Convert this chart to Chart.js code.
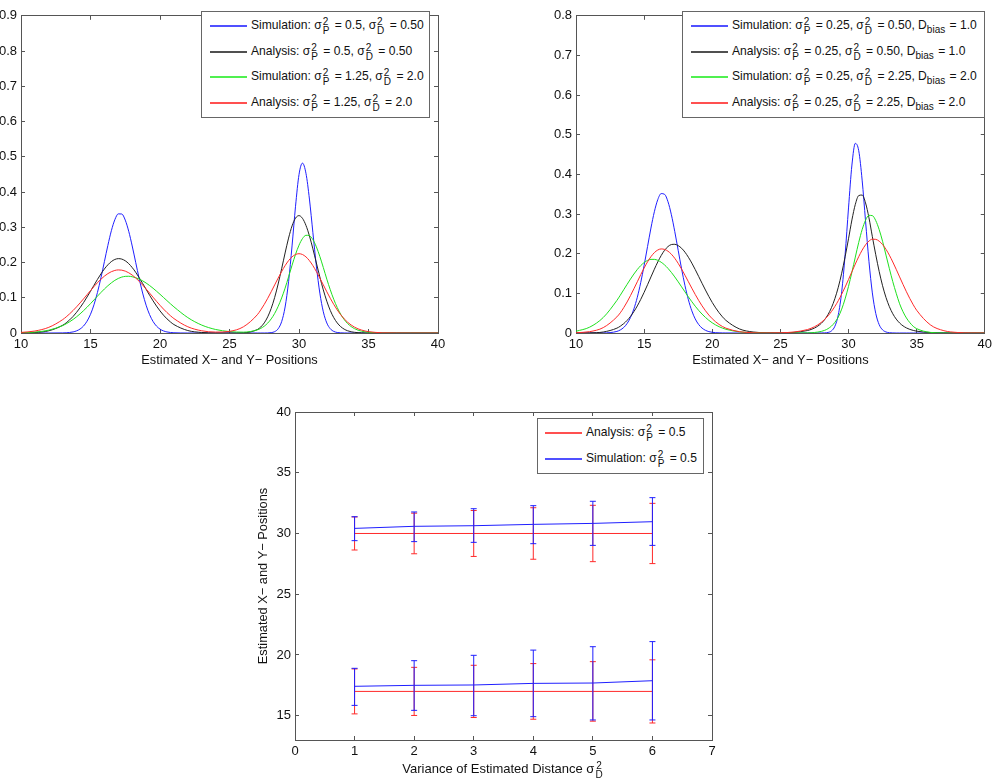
<!DOCTYPE html>
<html>
<head>
<meta charset="utf-8">
<script src="https://cdn.jsdelivr.net/npm/chart.js@4.4.1/dist/chart.umd.min.js"></script>
<style>
  body { margin: 0; background: #fff; width: 1000px; height: 782px; overflow: hidden; position: relative;
         font-family: "Liberation Sans", Arial, sans-serif; color: #111; }
  canvas { position: absolute; }
  #tl { left: 0; top: 0; width: 460px; height: 375px; }
  #tr { left: 520px; top: 0; width: 480px; height: 375px; }
  #bt { left: 240px; top: 392px; width: 500px; height: 390px; }
  .lg { position: absolute; border: 1px solid #666; background: #fff; font-size: 12.1px; box-sizing: border-box; }
  .row { position: absolute; left: 0; right: 0; height: 26px; display: flex; align-items: center; white-space: nowrap; }
  .sw { display: inline-block; flex: 0 0 37px; width: 37px; height: 2px; margin: 0 4px 0 8px; }
  .tx { flex: 0 0 auto; }
  .ss { display: inline-block; vertical-align: middle; font-size: 10px; line-height: 9px; margin: 0 2px 0 1px; }
  .ss b { display: block; font-weight: normal; }
  .sb { font-size: 10px; vertical-align: -4px; margin-right: 1px; }
  #xt { position: absolute; left: 295px; top: 761px; width: 417px; text-align: center; font-size: 13px; line-height: 16px; }
</style>
</head>
<body>
<canvas id="tl" width="460" height="375"></canvas>
<canvas id="tr" width="480" height="375"></canvas>
<canvas id="bt" width="500" height="390"></canvas>

<div class="lg" style="left:201px;top:11px;width:229px;height:107px">
  <div class="row" style="top:1px"><span class="sw" style="background:#5050ff"></span><span class="tx">Simulation: σ<span class="ss"><b>2</b><b>P</b></span> = 0.5, σ<span class="ss"><b>2</b><b>D</b></span> = 0.50</span></div>
  <div class="row" style="top:27px"><span class="sw" style="background:#505050"></span><span class="tx">Analysis: σ<span class="ss"><b>2</b><b>P</b></span> = 0.5, σ<span class="ss"><b>2</b><b>D</b></span> = 0.50</span></div>
  <div class="row" style="top:52px"><span class="sw" style="background:#50f050"></span><span class="tx">Simulation: σ<span class="ss"><b>2</b><b>P</b></span> = 1.25, σ<span class="ss"><b>2</b><b>D</b></span> = 2.0</span></div>
  <div class="row" style="top:78px"><span class="sw" style="background:#ff5050"></span><span class="tx">Analysis: σ<span class="ss"><b>2</b><b>P</b></span> = 1.25, σ<span class="ss"><b>2</b><b>D</b></span> = 2.0</span></div>
</div>

<div class="lg" style="left:682px;top:11px;width:303px;height:107px">
  <div class="row" style="top:1px"><span class="sw" style="background:#5050ff"></span><span class="tx">Simulation: σ<span class="ss"><b>2</b><b>P</b></span> = 0.25, σ<span class="ss"><b>2</b><b>D</b></span> = 0.50, D<span class="sb">bias</span> = 1.0</span></div>
  <div class="row" style="top:27px"><span class="sw" style="background:#505050"></span><span class="tx">Analysis: σ<span class="ss"><b>2</b><b>P</b></span> = 0.25, σ<span class="ss"><b>2</b><b>D</b></span> = 0.50, D<span class="sb">bias</span> = 1.0</span></div>
  <div class="row" style="top:52px"><span class="sw" style="background:#50f050"></span><span class="tx">Simulation: σ<span class="ss"><b>2</b><b>P</b></span> = 0.25, σ<span class="ss"><b>2</b><b>D</b></span> = 2.25, D<span class="sb">bias</span> = 2.0</span></div>
  <div class="row" style="top:78px"><span class="sw" style="background:#ff5050"></span><span class="tx">Analysis: σ<span class="ss"><b>2</b><b>P</b></span> = 0.25, σ<span class="ss"><b>2</b><b>D</b></span> = 2.25, D<span class="sb">bias</span> = 2.0</span></div>
</div>

<div class="lg" style="left:537px;top:418px;width:167px;height:56px">
  <div class="row" style="top:1px"><span class="sw" style="background:#ff5050;margin-left:7px"></span><span class="tx">Analysis: σ<span class="ss"><b>2</b><b>P</b></span> = 0.5</span></div>
  <div class="row" style="top:27px"><span class="sw" style="background:#5050ff;margin-left:7px"></span><span class="tx">Simulation: σ<span class="ss"><b>2</b><b>P</b></span> = 0.5</span></div>
</div>

<div id="xt">Variance of Estimated Distance σ<span class="ss"><b>2</b><b>D</b></span></div>

<script>
// estimated x/y position grid shared by both density panels (denser around the peaks)
const posX = [10, 11, 12,
  13, 13.25, 13.5, 13.75, 14, 14.25, 14.5, 14.75, 15, 15.25, 15.5, 15.75, 16, 16.25, 16.5, 16.75,
  17, 17.25, 17.5, 17.75, 18, 18.25, 18.5, 18.75, 19, 19.25, 19.5, 19.75, 20, 20.25, 20.5, 20.75, 21,
  22, 23, 24, 25, 26,
  27, 27.25, 27.5, 27.75, 28, 28.25, 28.5, 28.75, 29, 29.25, 29.5, 29.75, 30, 30.25, 30.5, 30.75,
  31, 31.25, 31.5, 31.75, 32, 32.25, 32.5, 32.75, 33, 33.25, 33.5, 33.75, 34, 34.25, 34.5, 34.75, 35,
  36, 37, 38, 39, 40];

// left panel: sigma_P^2 = 0.5 / 1.25
const tlSim1 = [0, 0, 0,
  0.0003, 0.0007, 0.0015, 0.0031, 0.0061, 0.0113, 0.0199, 0.0334, 0.0531, 0.0801, 0.115, 0.1565, 0.2025, 0.2487, 0.2901, 0.3213,
  0.338, 0.3376, 0.3203, 0.2886, 0.2469, 0.2006, 0.1548, 0.1134, 0.0789, 0.0522, 0.0327, 0.0195, 0.011, 0.0059, 0.003, 0.0015, 0.0007,
  0, 0, 0, 0, 0,
  0, 0, 0, 0.0002, 0.0011, 0.0038, 0.012, 0.0321, 0.0737, 0.1458, 0.2471, 0.3596, 0.4493, 0.482, 0.4532, 0.3801,
  0.2845, 0.1899, 0.1131, 0.0601, 0.0285, 0.0121, 0.0045, 0.0015, 0.0005, 0.0001, 0, 0, 0, 0, 0, 0, 0,
  0, 0, 0, 0, 0];
const tlAna1 = [0.0002, 0.0013, 0.0063,
  0.022, 0.0288, 0.0372, 0.0471, 0.0587, 0.0718, 0.0863, 0.1021, 0.1185, 0.1354, 0.152, 0.1676, 0.1817, 0.1935, 0.2026, 0.2086,
  0.211, 0.2097, 0.2049, 0.1968, 0.1857, 0.1723, 0.1571, 0.1407, 0.1239, 0.1073, 0.0913, 0.0763, 0.0627, 0.0506, 0.0402, 0.0314, 0.024,
  0.007, 0.0015, 0.0002, 0, 0.0006,
  0.0097, 0.0171, 0.0287, 0.0459, 0.0698, 0.101, 0.1391, 0.1822, 0.2271, 0.2693, 0.3038, 0.326, 0.333, 0.3254, 0.3054, 0.2755,
  0.2387, 0.1987, 0.159, 0.1222, 0.0902, 0.064, 0.0436, 0.0286, 0.018, 0.0109, 0.0063, 0.0035, 0.0019, 0.001, 0.0005, 0.0002, 0.0001,
  0, 0, 0, 0, 0];
const tlSim2 = [0.0006, 0.0025, 0.008,
  0.021, 0.026, 0.0319, 0.0385, 0.046, 0.0543, 0.0634, 0.0731, 0.0833, 0.0938, 0.1045, 0.1149, 0.1249, 0.1341, 0.1423, 0.1494,
  0.1549, 0.1587, 0.1607, 0.161, 0.1596, 0.1569, 0.153, 0.148, 0.1418, 0.1348, 0.127, 0.1186, 0.1099, 0.1009, 0.0919, 0.0829, 0.0743,
  0.0437, 0.0225, 0.01, 0.004, 0.0024,
  0.0088, 0.0131, 0.0193, 0.0281, 0.04, 0.0556, 0.0754, 0.0994, 0.1273, 0.1594, 0.1922, 0.223, 0.2491, 0.2678, 0.2772, 0.2761,
  0.2648, 0.2444, 0.2171, 0.1857, 0.1529, 0.1227, 0.0955, 0.0723, 0.0532, 0.0382, 0.0267, 0.0183, 0.0122, 0.008, 0.0051, 0.0032, 0.002,
  0.0003, 0, 0, 0, 0];
const tlAna2 = [0.0016, 0.0056, 0.0161,
  0.038, 0.0457, 0.0544, 0.064, 0.0743, 0.0853, 0.0968, 0.1086, 0.1203, 0.1318, 0.1427, 0.1526, 0.1613, 0.1685, 0.174, 0.1775,
  0.179, 0.1783, 0.1756, 0.1709, 0.1644, 0.1562, 0.1468, 0.1362, 0.1249, 0.1133, 0.1015, 0.0899, 0.0786, 0.068, 0.0581, 0.0491, 0.041,
  0.0177, 0.0063, 0.0026, 0.0047, 0.0176,
  0.0518, 0.0655, 0.0811, 0.0985, 0.1171, 0.1365, 0.1558, 0.1743, 0.1911, 0.2053, 0.216, 0.2227, 0.225, 0.2227, 0.216, 0.2053,
  0.1911, 0.1743, 0.1558, 0.1365, 0.1171, 0.0985, 0.0811, 0.0655, 0.0518, 0.0401, 0.0305, 0.0227, 0.0165, 0.0118, 0.0083, 0.0057, 0.0038,
  0.0006, 0.0001, 0, 0, 0];

// right panel: with distance bias
const trSim1 = [0, 0, 0.0002,
  0.004, 0.0077, 0.0138, 0.0239, 0.0391, 0.0609, 0.0902, 0.1272, 0.1707, 0.2179, 0.2647, 0.3058, 0.3362, 0.3516, 0.3498, 0.3312,
  0.2983, 0.2556, 0.2084, 0.1616, 0.1192, 0.0837, 0.0559, 0.0355, 0.0215, 0.0124, 0.0068, 0.0035, 0.0017, 0.0008, 0.0004, 0.0002, 0.0001,
  0, 0, 0, 0, 0,
  0, 0, 0, 0, 0.0001, 0.0003, 0.0014, 0.0053, 0.017, 0.0459, 0.1038, 0.1973, 0.3154, 0.4236, 0.4783, 0.4597,
  0.3856, 0.2825, 0.1809, 0.1011, 0.0494, 0.0211, 0.0079, 0.0026, 0.0007, 0.0002, 0, 0, 0, 0, 0, 0, 0,
  0, 0, 0, 0, 0];
const trAna1 = [0, 0.0004, 0.0025,
  0.0122, 0.0171, 0.0236, 0.0317, 0.0419, 0.0541, 0.0683, 0.0847, 0.1025, 0.1217, 0.1414, 0.1608, 0.1791, 0.1953, 0.2086, 0.218,
  0.2231, 0.2237, 0.2204, 0.2137, 0.2037, 0.191, 0.1763, 0.16, 0.1428, 0.1254, 0.1084, 0.0921, 0.077, 0.0633, 0.0512, 0.0407, 0.0319,
  0.0102, 0.0025, 0.0005, 0.0001, 0.0016,
  0.0063, 0.0088, 0.0124, 0.0174, 0.0243, 0.0338, 0.0467, 0.064, 0.0867, 0.1154, 0.1508, 0.1922, 0.2376, 0.2852, 0.3244, 0.3466,
  0.3479, 0.3281, 0.2906, 0.243, 0.1974, 0.1554, 0.1192, 0.0897, 0.0664, 0.0485, 0.0351, 0.0252, 0.018, 0.0128, 0.0091, 0.0065, 0.0046,
  0.0012, 0.0003, 0.0001, 0, 0];
const trSim2 = [0.0043, 0.0147, 0.0391,
  0.0822, 0.0953, 0.109, 0.1227, 0.1361, 0.1488, 0.1602, 0.17, 0.1777, 0.183, 0.1857, 0.1857, 0.1833, 0.1785, 0.1717, 0.163,
  0.1528, 0.1414, 0.1291, 0.1164, 0.1036, 0.091, 0.079, 0.0676, 0.0571, 0.0477, 0.0393, 0.0319, 0.0256, 0.0203, 0.0159, 0.0123, 0.0094,
  0.0028, 0.0007, 0.0001, 0, 0,
  0.0004, 0.0007, 0.0013, 0.0024, 0.004, 0.0067, 0.011, 0.0174, 0.0269, 0.0403, 0.0602, 0.0861, 0.1175, 0.1534, 0.1915, 0.2285,
  0.2607, 0.2844, 0.2967, 0.296, 0.2834, 0.2608, 0.2313, 0.1966, 0.1622, 0.1295, 0.1002, 0.0737, 0.0536, 0.0379, 0.0261, 0.0168, 0.011,
  0.0015, 0.0001, 0, 0, 0];
const trAna2 = [0.0007, 0.0034, 0.0136,
  0.0406, 0.0509, 0.0638, 0.0783, 0.0944, 0.1116, 0.1293, 0.147, 0.164, 0.1794, 0.1925, 0.2027, 0.2093, 0.212, 0.2108, 0.2063,
  0.1987, 0.1883, 0.1756, 0.1611, 0.1455, 0.1292, 0.113, 0.0972, 0.0823, 0.0686, 0.0562, 0.0453, 0.036, 0.0281, 0.0216, 0.0163, 0.0122,
  0.0033, 0.0007, 0.0002, 0.0006, 0.0025,
  0.0088, 0.0119, 0.0157, 0.0206, 0.0267, 0.0342, 0.0434, 0.0542, 0.067, 0.0815, 0.098, 0.1158, 0.1349, 0.1545, 0.1741, 0.1925,
  0.2089, 0.2224, 0.2318, 0.2366, 0.2362, 0.2316, 0.2231, 0.2111, 0.1962, 0.1791, 0.1606, 0.1414, 0.1224, 0.104, 0.0868, 0.0712, 0.0574,
  0.0207, 0.0058, 0.0013, 0.0002, 0];

// bottom panel: mean estimate vs variance of distance
const varD = [1, 2, 3, 4, 5, 6];
const anaHighMean = [30, 30, 30, 30, 30, 30];
const anaHighErr = [1.36, 1.67, 1.89, 2.12, 2.32, 2.48];
const anaLowMean = [17, 17, 17, 17, 17, 17];
const anaLowErr = [1.85, 1.98, 2.15, 2.29, 2.45, 2.6];
const simHighMean = [30.42, 30.59, 30.64, 30.75, 30.83, 30.97];
const simHighLo = [29.41, 29.33, 29.27, 29.16, 29.02, 29.02];
const simHighUp = [31.38, 31.77, 32.04, 32.29, 32.65, 32.95];
const simLowMean = [17.42, 17.5, 17.53, 17.66, 17.69, 17.88];
const simLowLo = [15.85, 15.44, 15.0, 14.92, 14.65, 14.65];
const simLowUp = [18.9, 19.53, 19.97, 20.4, 20.68, 21.1];

// tick labels
const posTicks = [10, 15, 20, 25, 30, 35, 40];
const tlYTicks = [0, 0.1, 0.2, 0.3, 0.4, 0.5, 0.6, 0.7, 0.8, 0.9];
const trYTicks = [0, 0.1, 0.2, 0.3, 0.4, 0.5, 0.6, 0.7, 0.8];
const varTicks = [0, 1, 2, 3, 4, 5, 6, 7];
const meanTicks = [15, 20, 25, 30, 35, 40];

const FONT = '"Liberation Sans", Arial, sans-serif';
const BLUE = '#1f1fff', BLACK = '#222222', GREEN = '#1ee01e', RED = '#ff2a2a';
const AXIS = '#555555';

// one side of the matlab-like box: inward ticks, optional labels, fixed size
function side(position, min, max, ticks, size, o) {
  o = o || {};
  return {
    type: 'linear', axis: (position == 'top' || position == 'bottom') ? 'x' : 'y',
    position: position, min: min, max: max,
    afterBuildTicks: s => { s.ticks = ticks.map(v => ({ value: v })); },
    afterFit: s => { if (s.isHorizontal()) s.height = size; else s.width = size; },
    border: { display: true, color: AXIS, width: 1 },
    grid: { drawOnChartArea: false, drawTicks: true, tickLength: -4, color: AXIS, lineWidth: 1 },
    ticks: {
      display: !!o.labels, autoSkip: false, maxRotation: 0, padding: o.pad || 8,
      color: '#111', font: { size: 13, family: FONT }, callback: o.fmt || (v => String(v))
    },
    title: o.title ? { display: true, text: o.title, color: '#111', font: { size: 12.8, family: FONT }, padding: o.titlePad }
                   : { display: false }
  };
}

function curve(ys, color, order) {
  return {
    data: posX.map((x, i) => ({ x: x, y: ys[i] })),
    borderColor: color, borderWidth: 1, pointRadius: 0, fill: false,
    cubicInterpolationMode: 'monotone', order: order
  };
}

const yFmt = v => v === 0 ? '0' : v.toFixed(1);

function densityChart(id, padding, yWidth, yMax, yTicks, sets) {
  new Chart(document.getElementById(id), {
    type: 'line',
    data: { datasets: sets },
    options: {
      responsive: false, animation: false, events: [],
      layout: { autoPadding: false, padding: padding },
      plugins: { legend: { display: false }, tooltip: { enabled: false } },
      scales: {
        x: side('bottom', 10, 40, posTicks, 42, { labels: true, pad: 8, title: 'Estimated X\u2212 and Y\u2212 Positions', titlePad: { top: 0, bottom: 7 } }),
        x2: side('top', 10, 40, posTicks, 0),
        y: side('left', 0, yMax, yTicks, yWidth, { labels: true, fmt: yFmt }),
        y2: side('right', 0, yMax, yTicks, 0)
      }
    }
  });
}

densityChart('tl', { left: 0, right: 22, top: 5, bottom: 0 }, 21, 0.9, tlYTicks, [
  curve(tlSim1, BLUE, 4), curve(tlAna1, BLACK, 3), curve(tlSim2, GREEN, 2), curve(tlAna2, RED, 1)
]);
densityChart('tr', { left: 0, right: 7, top: 5, bottom: 0 }, 56, 0.8, trYTicks, [
  curve(trSim1, BLUE, 4), curve(trAna1, BLACK, 3), curve(trSim2, GREEN, 2), curve(trAna2, RED, 1)
]);

// bottom chart: mean lines plus one small dataset per error bar
function meanLine(ys, color, order) {
  return { data: varD.map((x, i) => ({ x: x, y: ys[i] })), borderColor: color, borderWidth: 1,
           pointRadius: 0, tension: 0, order: order };
}
function errBars(lo, up, color, order) {
  return varD.map((x, i) => ({
    data: [{ x: x, y: lo[i] }, { x: x, y: up[i] }],
    borderColor: color, borderWidth: 1, tension: 0, order: order,
    pointStyle: 'line', pointRadius: 3, pointBorderWidth: 1, pointBorderColor: color
  }));
}

const anaHighLo = anaHighMean.map((m, i) => m - anaHighErr[i]);
const anaHighUp = anaHighMean.map((m, i) => m + anaHighErr[i]);
const anaLowLo = anaLowMean.map((m, i) => m - anaLowErr[i]);
const anaLowUp = anaLowMean.map((m, i) => m + anaLowErr[i]);

new Chart(document.getElementById('bt'), {
  type: 'line',
  data: {
    datasets: [
      meanLine(anaHighMean, RED, 2), meanLine(anaLowMean, RED, 2),
      ...errBars(anaHighLo, anaHighUp, RED, 2), ...errBars(anaLowLo, anaLowUp, RED, 2),
      meanLine(simHighMean, BLUE, 1), meanLine(simLowMean, BLUE, 1),
      ...errBars(simHighLo, simHighUp, BLUE, 1), ...errBars(simLowLo, simLowUp, BLUE, 1)
    ]
  },
  options: {
    responsive: false, animation: false, events: [],
    layout: { autoPadding: false, padding: { left: 0, right: 28, top: 20, bottom: 0 } },
    plugins: { legend: { display: false }, tooltip: { enabled: false } },
    scales: {
      x: side('bottom', 0, 7, varTicks, 42, { labels: true, pad: 8 }),
      x2: side('top', 0, 7, varTicks, 0),
      y: side('left', 13, 40, meanTicks, 55, { labels: true, title: 'Estimated X\u2212 and Y\u2212 Positions', titlePad: { top: 16, bottom: 0 } }),
      y2: side('right', 13, 40, meanTicks, 0)
    }
  }
});
</script>
</body>
</html>
